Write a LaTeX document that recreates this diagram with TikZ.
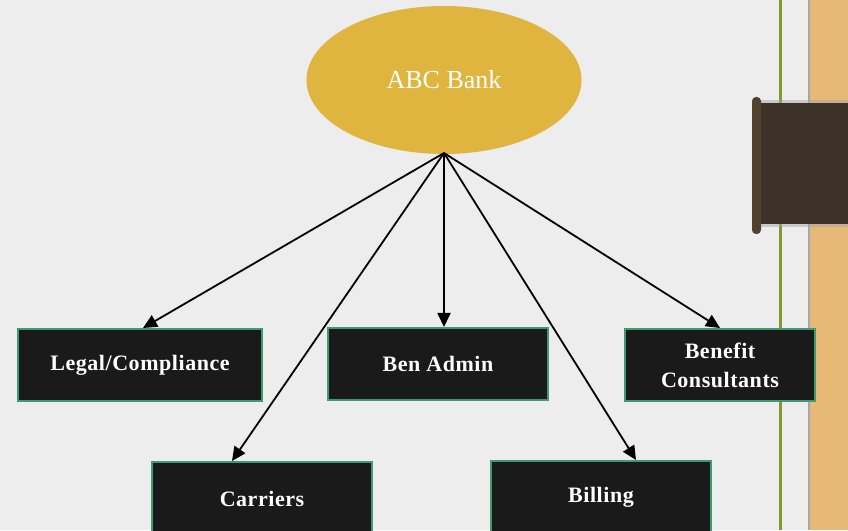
\documentclass[tikz,border=0pt]{standalone}
\usepackage{fontspec}
\setmainfont{Liberation Serif}
\usetikzlibrary{shapes.geometric,arrows.meta}
\definecolor{bgc}{HTML}{EDEDED}
\definecolor{gold}{HTML}{DFB43F}
\definecolor{boxfill}{HTML}{1A1A1A}
\definecolor{boxedge}{HTML}{3E9A74}
\definecolor{vgreen}{HTML}{7F9A2E}
\definecolor{tan}{HTML}{E6B977}
\definecolor{tab}{HTML}{3D3228}
\definecolor{tabbar}{HTML}{54412D}
\newcommand{\boxfont}{\fontsize{22}{29}\selectfont\bfseries\addfontfeatures{LetterSpace=2.5}}
\tikzset{
  unitbox/.style={draw=boxedge, line width=2pt, fill=boxfill, text=white,
    font=\boxfont, align=center, inner sep=0pt},
  conn/.style={line width=1.8pt, -{Triangle[length=14pt,width=13pt]}}
}
\begin{document}
\begin{tikzpicture}[x=1pt,y=1pt]
\useasboundingbox (0,0) rectangle (848,530);
\clip (0,0) rectangle (848,530);
% background
\fill[bgc] (0,0) rectangle (848,530);
\fill[tan] (809,0) rectangle (848,530);
\draw[gray!70, line width=1.2pt] (809,0) -- (809,530);
\draw[vgreen, line width=3pt] (780,0) -- (780,530);
% tab
\fill[black!35, opacity=0.5] (754,303) rectangle (848,430);
\fill[tab] (754,306) rectangle (848,427);
\fill[tabbar, rounded corners=4pt] (752,296) rectangle (761,433);
% nodes
\node[ellipse, fill=gold, minimum width=275pt, minimum height=148pt, inner sep=0pt,
  text=white, font=\fontsize{26}{30}\selectfont] (bank) at (444,450) {ABC Bank};
\node[unitbox, minimum width=244pt, minimum height=72pt] (legal) at (140,165) {Legal/Compliance};
\node[unitbox, minimum width=220pt, minimum height=72pt] (ben) at (438,166) {Ben Admin};
\node[unitbox, minimum width=190pt, minimum height=72pt] (cons) at (720,165) {Benefit\\Consultants};
\node[unitbox, minimum width=220pt, minimum height=72pt] (carr) at (262,32) {};
\node[unitbox, minimum width=220pt, minimum height=72pt] (bill) at (601,33) {};
\node[text=white, font=\boxfont] (carrt) at (262,31) {Carriers};
\node[text=white, font=\boxfont] (billt) at (601,33) {Billing};
% connectors
\coordinate (hub) at (444,377);
\draw[conn] (hub) -- ([xshift=3pt]legal.north);
\draw[conn] (hub) -- ([xshift=-30pt]carr.north);
\draw[conn] (hub) -- ([xshift=6pt]ben.north);
\draw[conn] (hub) -- ([xshift=35pt]bill.north);
\draw[conn] (hub) -- ([xshift=0pt]cons.north);
\end{tikzpicture}
\end{document}
